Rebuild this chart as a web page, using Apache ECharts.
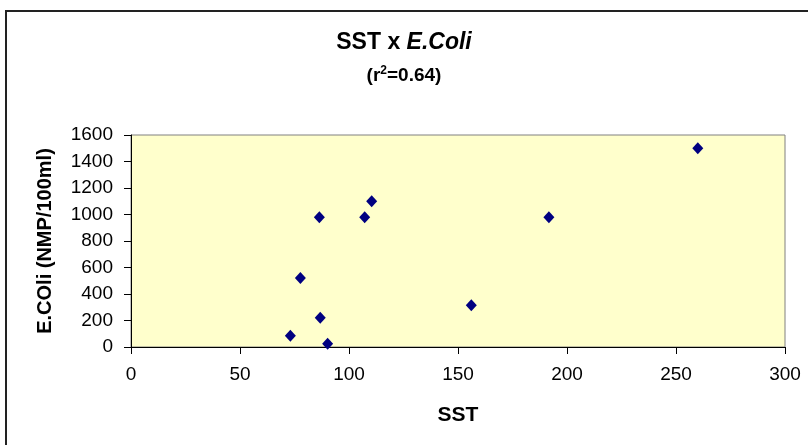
<!DOCTYPE html>
<html>
<head>
<meta charset="utf-8">
<script src="https://cdn.jsdelivr.net/npm/echarts@6/dist/echarts.min.js"></script>
<style>
  html, body { margin: 0; padding: 0; background: #fff; }
  #chart { width: 808px; height: 445px; }
</style>
</head>
<body>
<div id="chart"></div>
<script>
// SST counts against E. coli counts
const sst = [86.4, 107.2, 110.4, 191.7, 77.7, 156.1, 86.8, 73.1, 90.2, 260];
const ecoli = [980, 980, 1100, 980, 520, 315, 220, 85, 25, 1500];
const xTicks = [0, 50, 100, 150, 200, 250, 300];
const yTicks = [0, 200, 400, 600, 800, 1000, 1200, 1400, 1600];

const points = sst.map((v, i) => [v, ecoli[i]]);
const font = '"Liberation Sans", Arial, sans-serif';

const chart = echarts.init(document.getElementById('chart'), null, { renderer: 'canvas' });
chart.setOption({
  animation: false,
  backgroundColor: '#ffffff',
  title: [{
    text: 'SST x {i|E.Coli}',
    left: 'center',
    top: 26,
    textStyle: {
      fontFamily: font, fontSize: 23, fontWeight: 'bold', color: '#000',
      rich: { i: { fontFamily: font, fontSize: 23, fontWeight: 'bold', fontStyle: 'italic', color: '#000' } }
    }
  }, {
    text: '(r{s|2}=0.64)',
    left: 'center',
    top: 60,
    textStyle: {
      fontFamily: font, fontSize: 19, fontWeight: 'bold', color: '#000', lineHeight: 22,
      rich: {
        s: { fontFamily: font, fontSize: 12, fontWeight: 'bold', color: '#000', lineHeight: 22, verticalAlign: 'top' }
      }
    }
  }],
  graphic: [{
    type: 'polyline',
    shape: { points: [[6, 445], [6, 11], [808, 11]] },
    style: { fill: null, stroke: '#222', lineWidth: 2 },
    silent: true
  }],
  grid: {
    left: 131, right: 23, top: 135, bottom: 98,
    show: true,
    backgroundColor: '#FFFFCC',
    borderColor: '#808080',
    borderWidth: 1
  },
  xAxis: {
    type: 'value',
    min: xTicks[0], max: xTicks[xTicks.length - 1], interval: 50,
    name: 'SST',
    nameLocation: 'middle',
    nameGap: 58,
    nameTextStyle: { fontFamily: font, fontSize: 21, fontWeight: 'bold', color: '#000' },
    axisLine: { show: true, lineStyle: { color: '#000', width: 1 } },
    axisTick: { show: true, length: 7, lineStyle: { color: '#000' } },
    axisLabel: { fontFamily: font, fontSize: 19, color: '#000', margin: 18, formatter: v => String(v) },
    splitLine: { show: false }
  },
  yAxis: {
    type: 'value',
    min: yTicks[0], max: yTicks[yTicks.length - 1], interval: 200,
    name: 'E.COli (NMP/100ml)',
    nameLocation: 'middle',
    nameGap: 76,
    nameRotate: 90,
    nameTextStyle: { fontFamily: font, fontSize: 20, fontWeight: 'bold', color: '#000' },
    axisLine: { show: true, lineStyle: { color: '#000', width: 1 } },
    axisTick: { show: true, length: 7, lineStyle: { color: '#000' } },
    axisLabel: { fontFamily: font, fontSize: 19, color: '#000', margin: 18, formatter: v => String(v) },
    splitLine: { show: false }
  },
  series: [{
    type: 'scatter',
    data: points,
    symbol: 'diamond',
    symbolSize: [11, 12],
    itemStyle: { color: '#000080', opacity: 1 }
  }]
});
</script>
</body>
</html>
